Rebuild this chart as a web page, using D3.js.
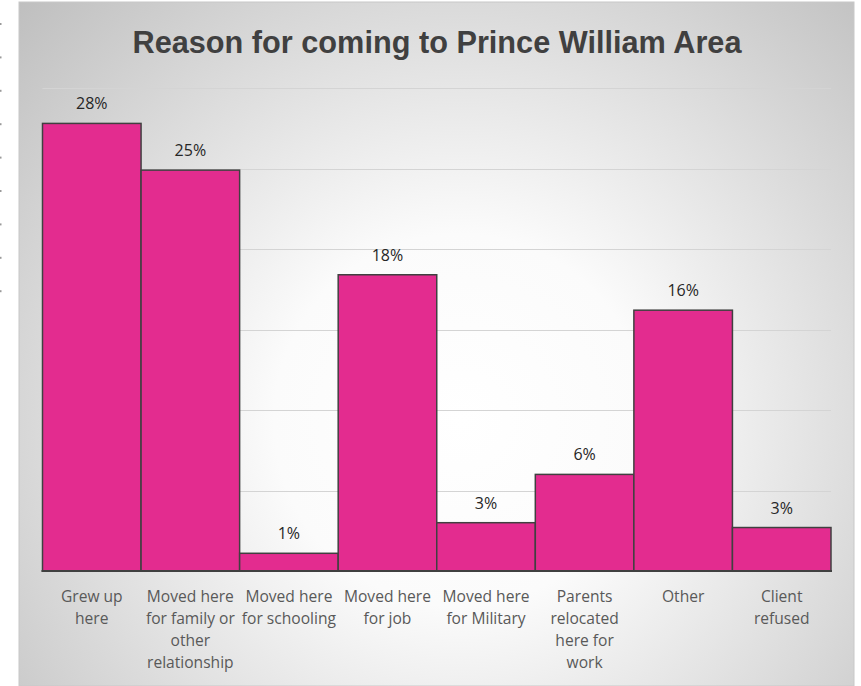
<!DOCTYPE html>
<html>
<head>
<meta charset="utf-8">
<script src="https://cdn.jsdelivr.net/npm/d3@7"></script>
<style>
  html, body { margin: 0; padding: 0; background: #ffffff; }
  svg { display: block; }
</style>
</head>
<body>
<script>
// ---- Data ----
const title = "Reason for coming to Prince William Area";
const categories = [
  "Grew up here",
  "Moved here for family or other relationship",
  "Moved here for schooling",
  "Moved here for job",
  "Moved here for Military",
  "Parents relocated here for work",
  "Other",
  "Client refused"
];
const categoryLines = [
  ["Grew up", "here"],
  ["Moved here", "for family or", "other", "relationship"],
  ["Moved here", "for schooling"],
  ["Moved here", "for job"],
  ["Moved here", "for Military"],
  ["Parents", "relocated", "here for", "work"],
  ["Other"],
  ["Client", "refused"]
];
const values = [27.8, 24.9, 1.1, 18.4, 3.0, 6.0, 16.2, 2.7];
const gridTicks = [5, 10, 15, 20, 25, 30];

// ---- Layout ----
const W = 861, H = 686;
const svg = d3.select("body").append("svg").attr("width", W).attr("height", H);

const defs = svg.append("defs");
const grad = defs.append("radialGradient")
  .attr("id", "bg").attr("gradientUnits", "userSpaceOnUse")
  .attr("cx", 460).attr("cy", 420).attr("r", 620);
grad.append("stop").attr("offset", "0").attr("stop-color", "#ffffff");
grad.append("stop").attr("offset", "0.3").attr("stop-color", "#fbfbfb");
grad.append("stop").attr("offset", "1").attr("stop-color", "#bdbdbd");

// left decoration dots
svg.selectAll("rect.dot").data(d3.range(9)).join("rect")
  .attr("class", "dot").attr("x", 0).attr("y", i => 23 + i * 33.4)
  .attr("width", 1.5).attr("height", 2).attr("fill", "#9a9a9a");

// chart background
svg.append("rect").attr("x", 19).attr("y", 2).attr("width", 835).attr("height", H - 2)
  .attr("fill", "url(#bg)").attr("stroke", "#c8c8c8").attr("stroke-width", 1);

const plotLeft = 42.5, plotRight = 831, baseY = 571, topY = 88;
const x = d3.scaleBand().domain(categories).range([plotLeft, plotRight]).padding(0);
const y = d3.scaleLinear().domain([0, 30]).range([baseY, topY]);

// gridlines
svg.append("g").selectAll("line").data(gridTicks).join("line")
  .attr("x1", plotLeft).attr("x2", plotRight)
  .attr("y1", d => Math.round(y(d)) + 0.5).attr("y2", d => Math.round(y(d)) + 0.5)
  .attr("stroke", "#d4d4d4").attr("stroke-width", 1);

// title
svg.append("text")
  .attr("x", 437).attr("y", 53)
  .attr("text-anchor", "middle")
  .attr("font-family", "'Liberation Sans', Arial, sans-serif")
  .attr("font-weight", "bold")
  .attr("font-size", 32)
  .attr("fill", "#404040")
  .attr("textLength", 609).attr("lengthAdjust", "spacingAndGlyphs")
  .text(title);

// bars
svg.append("g").selectAll("rect").data(values).join("rect")
  .attr("x", (d, i) => x(categories[i]))
  .attr("y", d => y(d))
  .attr("width", x.bandwidth())
  .attr("height", d => baseY - y(d))
  .attr("fill", "#e32c8f")
  .attr("stroke", "#404040")
  .attr("stroke-width", 1.5);

// baseline
svg.append("line").attr("x1", plotLeft - 1).attr("x2", plotRight + 1)
  .attr("y1", baseY).attr("y2", baseY)
  .attr("stroke", "#404040").attr("stroke-width", 2);

// value labels
const fmt = d3.format(".0f");
svg.append("g").selectAll("text").data(values).join("text")
  .attr("x", (d, i) => x(categories[i]) + x.bandwidth() / 2)
  .attr("y", d => y(d) - 14)
  .attr("text-anchor", "middle")
  .attr("font-family", "'Open Sans', Lato, sans-serif")
  .attr("font-size", 16)
  .attr("fill", "#262626")
  .text(d => fmt(d) + "%");

// category labels
const cat = svg.append("g").selectAll("text").data(categories).join("text")
  .attr("text-anchor", "middle")
  .attr("font-family", "'Open Sans', Lato, sans-serif")
  .attr("font-size", 15.6)
  .attr("fill", "#595959");
cat.each(function(d, i) {
  const t = d3.select(this);
  const cx = x(d) + x.bandwidth() / 2;
  categoryLines[i].forEach((ln, j) => {
    t.append("tspan").attr("x", cx).attr("y", 602 + j * 22).text(ln);
  });
});
</script>
</body>
</html>
